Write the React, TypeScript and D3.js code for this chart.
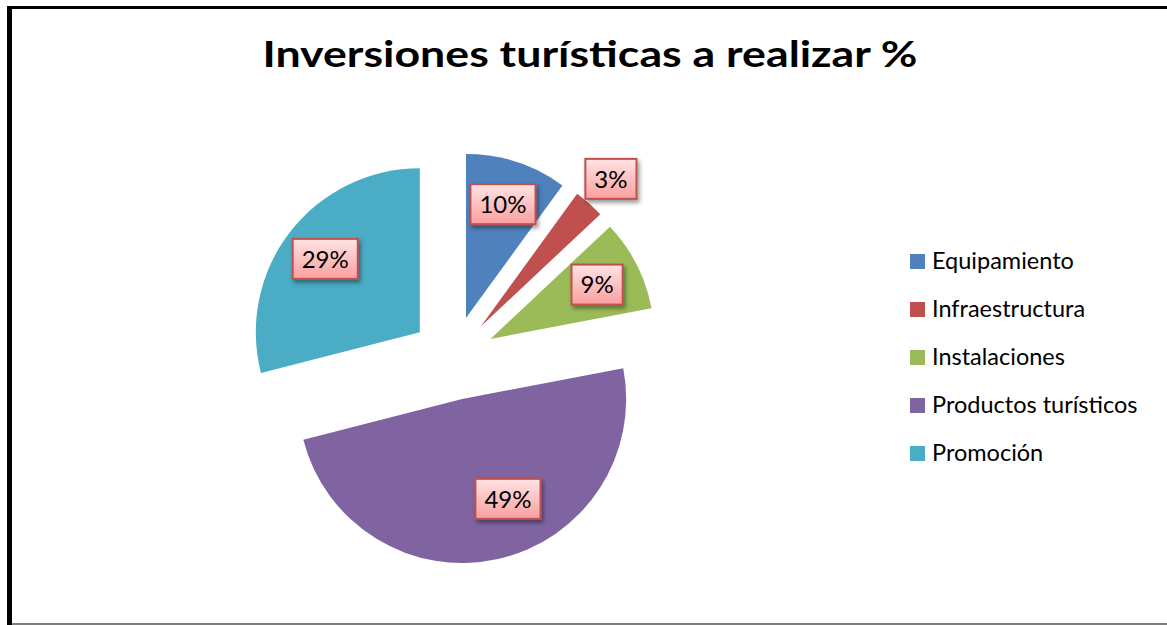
import React, { useEffect, useRef } from "react";
import * as d3 from "d3";

// chart data
const categories = ["Equipamiento", "Infraestructura", "Instalaciones", "Productos turísticos", "Promoción"];
const shares = [10, 3, 9, 49, 29];
const sliceColors = ["#4F81BD", "#C0504D", "#9BBB59", "#8064A2", "#4BACC6"];
const chartTitle = "Inversiones turísticas a realizar %";

const W = 1167;
const H = 625;

const App: React.FC = () => {
  const svgRef = useRef<SVGSVGElement | null>(null);

  useEffect(() => {
    if (!svgRef.current) return;
    const svg = d3.select(svgRef.current);
    svg.selectAll("*").remove();

    const font = "Lato, 'Open Sans', sans-serif";

    const defs = svg.append("defs");
    const grad = defs.append("linearGradient")
      .attr("id", "lblGrad")
      .attr("x1", 0).attr("y1", 0).attr("x2", 0).attr("y2", 1);
    grad.append("stop").attr("offset", "0%").attr("stop-color", "#FFE4E4");
    grad.append("stop").attr("offset", "100%").attr("stop-color", "#FA9F9F");

    const shadow = defs.append("filter").attr("id", "lblShadow")
      .attr("x", "-30%").attr("y", "-30%").attr("width", "160%").attr("height", "160%");
    shadow.append("feDropShadow")
      .attr("dx", 2).attr("dy", 3).attr("stdDeviation", 2)
      .attr("flood-color", "#000").attr("flood-opacity", 0.4);

    // background + frame
    svg.append("rect").attr("width", W).attr("height", H).attr("fill", "#fff");
    svg.append("rect").attr("x", 7).attr("y", 6).attr("width", W - 7).attr("height", 3).attr("fill", "#000");
    svg.append("rect").attr("x", 7).attr("y", 6).attr("width", 5).attr("height", H - 6).attr("fill", "#000");
    svg.append("rect").attr("x", 12).attr("y", 623).attr("width", W - 12).attr("height", 2).attr("fill", "#7f7f7f");

    // title
    svg.append("text")
      .attr("x", 590)
      .attr("y", 67)
      .attr("text-anchor", "middle")
      .attr("font-family", font)
      .attr("font-weight", "bold")
      .attr("font-size", 37)
      .attr("textLength", 655)
      .attr("lengthAdjust", "spacingAndGlyphs")
      .attr("fill", "#000")
      .text(chartTitle);

    // exploded pie
    const cx = 453;
    const cy = 358;
    const radius = 164;
    const explode = 42;

    const pie = d3.pie<number>().sort(null).value((d) => d);
    const arcs = pie(shares);
    const arc = d3.arc<d3.PieArcDatum<number>>().innerRadius(0).outerRadius(radius);

    const offsetOf = (a: d3.PieArcDatum<number>, dist: number, turn = 0) => {
      const mid = (a.startAngle + a.endAngle) / 2 + turn;
      return [Math.sin(mid) * dist, -Math.cos(mid) * dist];
    };

    const pieG = svg.append("g").attr("transform", `translate(${cx},${cy})`);
    pieG.selectAll("path")
      .data(arcs)
      .enter()
      .append("path")
      .attr("transform", (d) => {
        const [dx, dy] = offsetOf(d, explode);
        return `translate(${dx},${dy})`;
      })
      .attr("d", arc)
      .attr("fill", (d, i) => sliceColors[i]);

    // data labels (best fit: small slices go outside, the half-pie one leans toward its right side)
    const total = d3.sum(shares);
    arcs.forEach((a) => {
      const [ex, ey] = offsetOf(a, explode);
      const frac = a.value / total;
      const small = frac < 0.05;
      const big = frac > 0.4;
      const [lx, ly] = offsetOf(a, radius * (small ? 1.2 : big ? 0.67 : 0.73), big ? -0.21 : 0);
      const x = ex + lx;
      const y = ey + ly;
      const g = pieG.append("g").attr("transform", `translate(${x},${y})`);
      const rect = g.append("rect");
      const txt = g.append("text")
        .attr("text-anchor", "middle")
        .attr("dy", "0.36em")
        .attr("font-family", font)
        .attr("font-size", 24)
        .attr("fill", "#000")
        .text(`${Math.round(frac * 100)}%`);
      const tw = (txt.node() as SVGTextElement).getComputedTextLength();
      const bw = tw + 18;
      const bh = 40;
      rect.attr("x", -bw / 2).attr("y", -bh / 2)
        .attr("width", bw).attr("height", bh)
        .attr("fill", "url(#lblGrad)")
        .attr("stroke", "#C0504D")
        .attr("stroke-width", 2)
        .attr("filter", "url(#lblShadow)");
      txt.raise();
    });

    // legend
    const legend = svg.append("g").attr("transform", "translate(910,254)");
    const item = legend.selectAll("g")
      .data(categories)
      .enter()
      .append("g")
      .attr("transform", (d, i) => `translate(0,${i * 48})`);
    item.append("rect")
      .attr("width", 15).attr("height", 15)
      .attr("fill", (d, i) => sliceColors[i]);
    item.append("text")
      .attr("x", 22)
      .attr("y", 15)
      .attr("font-family", font)
      .attr("font-size", 23.5)
      .attr("fill", "#000")
      .text((d) => d);
  }, []);

  return (
    <div style={{ position: "absolute", left: 0, top: 0 }}>
      <svg ref={svgRef} width={W} height={H} style={{ display: "block" }}></svg>
    </div>
  );
};

export default App;
